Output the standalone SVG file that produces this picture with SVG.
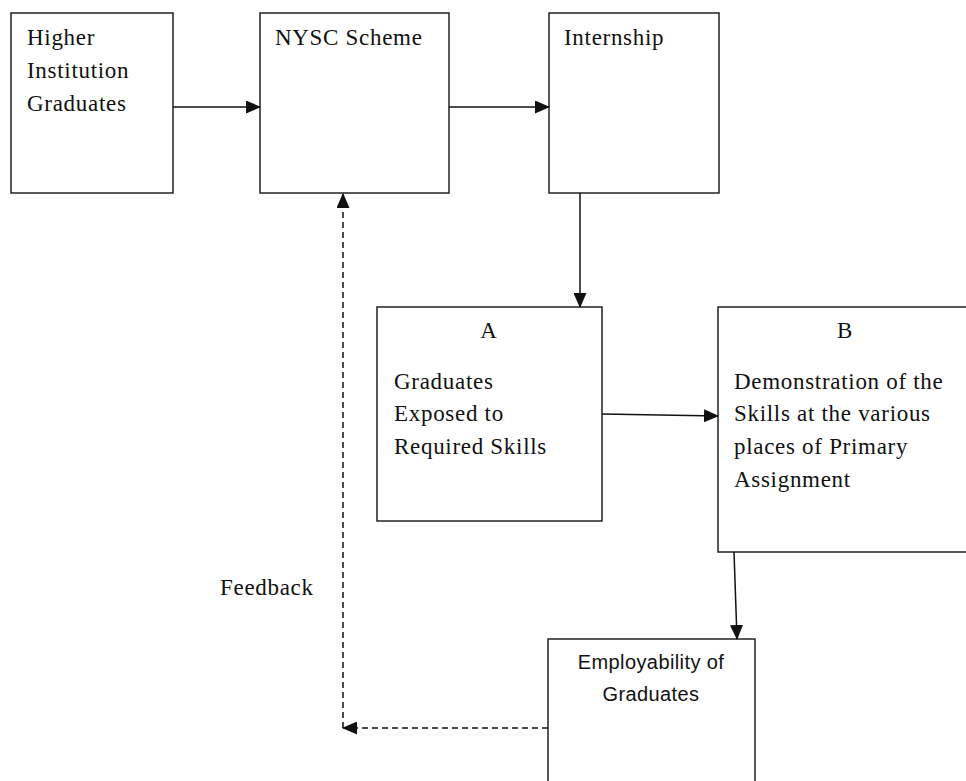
<svg xmlns="http://www.w3.org/2000/svg" width="966" height="781" viewBox="0 0 966 781">
<style>
.box{fill:#fff;stroke:#222;stroke-width:1.5}
.t{font-family:"Liberation Serif","Times New Roman",serif;font-size:23px;letter-spacing:0.7px;fill:#111}
.s{font-family:"Liberation Sans",Arial,sans-serif;font-size:20px;letter-spacing:0.4px;fill:#111}
.c{stroke:#111;stroke-width:1.5;fill:none}
.d{stroke:#111;stroke-width:1.5;fill:none;stroke-dasharray:6,4}
</style>
<defs>
<marker id="ah" markerWidth="15" markerHeight="13" refX="14" refY="6.5" orient="auto" markerUnits="userSpaceOnUse">
<path d="M0,0 L15,6.5 L0,13 Z" fill="#111"/>
</marker>
</defs>
<rect width="966" height="781" fill="#fff"/>
<g id="n1"><rect class="box" x="11" y="13" width="162" height="180"/>
<text class="t" x="27" y="45">Higher</text><text class="t" x="27" y="78">Institution</text><text class="t" x="27" y="111">Graduates</text></g>
<g id="n2"><rect class="box" x="260" y="13" width="189" height="180"/>
<text class="t" x="275" y="45">NYSC Scheme</text></g>
<g id="n3"><rect class="box" x="549" y="13" width="170" height="180"/>
<text class="t" x="564" y="45">Internship</text></g>
<g id="nA"><rect class="box" x="377" y="307" width="225" height="214"/>
<text class="t" x="489" y="338" text-anchor="middle">A</text>
<text class="t" x="394" y="389">Graduates</text><text class="t" x="394" y="421">Exposed to</text><text class="t" x="394" y="454">Required Skills</text></g>
<g id="nB"><rect class="box" x="718" y="307" width="260" height="245"/>
<text class="t" x="845" y="338" text-anchor="middle">B</text>
<text class="t" x="734" y="389">Demonstration of the</text><text class="t" x="734" y="421">Skills at the various</text><text class="t" x="734" y="454">places of Primary</text><text class="t" x="734" y="487">Assignment</text></g>
<g id="nE"><rect class="box" x="548" y="639" width="207" height="160"/>
<text class="s" x="651" y="669" text-anchor="middle">Employability of</text><text class="s" x="651" y="701" text-anchor="middle">Graduates</text></g>
<g id="lbl"><text class="t" x="220" y="595">Feedback</text></g>
<g id="connectors">
<line class="c" x1="173" y1="107" x2="260" y2="107" marker-end="url(#ah)"/>
<line class="c" x1="449" y1="107" x2="549" y2="107" marker-end="url(#ah)"/>
<line class="c" x1="580" y1="193" x2="580" y2="307" marker-end="url(#ah)"/>
<line class="c" x1="602" y1="414" x2="718" y2="416" marker-end="url(#ah)"/>
<line class="c" x1="734" y1="552" x2="737" y2="639" marker-end="url(#ah)"/>
<line class="d" x1="548" y1="728" x2="343" y2="728" marker-end="url(#ah)"/>
<line class="d" x1="343" y1="728" x2="343" y2="194" marker-end="url(#ah)"/>
</g>
</svg>
